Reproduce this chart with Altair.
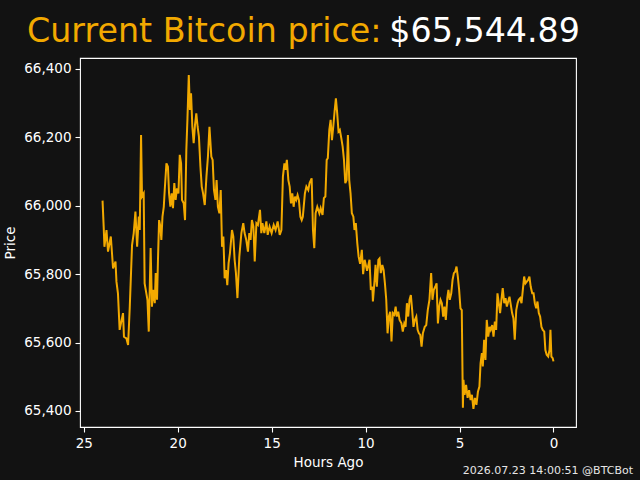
import altair as alt
import pandas as pd

# Price history over the last 24 hours (hours before now, USD)
hours_ago = [
    24.00, 23.94, 23.90, 23.79, 23.71, 23.56, 23.44, 23.31, 23.26, 23.18,
    23.09, 22.91, 22.86, 22.73, 22.64, 22.55, 22.43, 22.34, 22.25, 22.16,
    22.07, 22.02, 21.95, 21.90, 21.81, 21.76, 21.61, 21.54, 21.49, 21.44,
    21.37, 21.31, 21.22, 21.17, 21.10, 21.05, 20.99, 20.92, 20.87, 20.81,
    20.74, 20.69, 20.60, 20.52, 20.46, 20.39, 20.32, 20.25, 20.18, 20.11,
    20.04, 19.96, 19.89, 19.82, 19.77, 19.68, 19.61, 19.54, 19.48, 19.41,
    19.35, 19.29, 19.22, 19.15, 19.08, 19.01, 18.94, 18.87, 18.79, 18.72,
    18.65, 18.56, 18.47, 18.39, 18.31, 18.21, 18.14, 18.07, 17.99, 17.93,
    17.86, 17.78, 17.71, 17.64, 17.57, 17.50, 17.43, 17.36, 17.29, 17.22,
    17.11, 17.04, 16.97, 16.90, 16.82, 16.72, 16.61, 16.51, 16.44, 16.35,
    16.26, 16.19, 16.12, 16.05, 15.97, 15.90, 15.81, 15.73, 15.62, 15.55,
    15.49, 15.39, 15.28, 15.21, 15.11, 15.00, 14.89, 14.79, 14.68, 14.57,
    14.48, 14.40, 14.32, 14.26, 14.19, 14.11, 14.04, 13.97, 13.90, 13.83,
    13.76, 13.69, 13.62, 13.55, 13.47, 13.40, 13.34, 13.23, 13.15, 13.05,
    12.98, 12.87, 12.80, 12.73, 12.66, 12.57, 12.46, 12.39, 12.29, 12.22,
    12.14, 12.07, 12.01, 11.93, 11.86, 11.79, 11.72, 11.65, 11.58, 11.51,
    11.44, 11.37, 11.29, 11.22, 11.15, 11.08, 11.01, 10.94, 10.87, 10.80,
    10.73, 10.65, 10.59, 10.52, 10.44, 10.37, 10.29, 10.20, 10.13, 10.05,
    9.92, 9.79, 9.72, 9.64, 9.61, 9.52, 9.47, 9.40, 9.32, 9.26,
    9.19, 9.11, 9.04, 8.97, 8.90, 8.83, 8.76, 8.69, 8.62, 8.55,
    8.47, 8.40, 8.34, 8.26, 8.19, 8.09, 8.02, 7.94, 7.87, 7.80,
    7.73, 7.66, 7.59, 7.52, 7.45, 7.38, 7.30, 7.23, 7.16, 7.09,
    7.02, 6.95, 6.85, 6.77, 6.69, 6.60, 6.51, 6.44, 6.37, 6.29,
    6.22, 6.15, 6.08, 6.01, 5.94, 5.87, 5.80, 5.73, 5.65, 5.59,
    5.52, 5.44, 5.37, 5.30, 5.23, 5.16, 5.09, 5.02, 4.95, 4.88,
    4.82, 4.79, 4.73, 4.65, 4.57, 4.49, 4.41, 4.34, 4.26, 4.18,
    4.10, 4.02, 3.94, 3.88, 3.81, 3.76, 3.69, 3.62, 3.55, 3.47,
    3.40, 3.34, 3.26, 3.19, 3.12, 3.05, 2.98, 2.91, 2.84, 2.77,
    2.70, 2.62, 2.55, 2.48, 2.41, 2.34, 2.27, 2.20, 2.13, 2.06,
    1.98, 1.91, 1.85, 1.77, 1.70, 1.63, 1.56, 1.49, 1.42, 1.35,
    1.28, 1.21, 1.13, 1.06, 0.99, 0.92, 0.85, 0.78, 0.71, 0.64,
    0.57, 0.49, 0.43, 0.36, 0.28, 0.21, 0.16, 0.11, 0.04, 0.00,
]

price = [
    66015, 65939, 65880, 65929, 65866, 65910, 65817, 65837, 65778, 65744,
    65637, 65686, 65617, 65612, 65593, 65705, 65885, 65920, 65983, 65880,
    65968, 65929, 66207, 66027, 66036, 65773, 65725, 65632, 65754, 65876,
    65705, 65754, 65715, 65803, 65725, 65842, 65958, 65939, 65900, 65968,
    65997, 66046, 66124, 66114, 66036, 65997, 66036, 65993, 66066, 66017,
    66051, 66036, 66149, 66124, 66017, 66007, 65958, 66163, 66256, 66382,
    66280, 66329, 66231, 66183, 66236, 66270, 66231, 66202, 66114, 66056,
    66036, 66002, 66085, 66144, 66231, 66144, 66134, 66046, 66017, 66075,
    65997, 65978, 66046, 65880, 65910, 65788, 65812, 65768, 65832, 65861,
    65929, 65910, 65842, 65803, 65730, 65851, 65920, 65949, 65920, 65900,
    65866, 65920, 65900, 65958, 65939, 65837, 65949, 65944, 65988, 65920,
    65949, 65920, 65954, 65915, 65939, 65920, 65944, 65929, 65954, 65915,
    65929, 66085, 66124, 66105, 66134, 66075, 66056, 66007, 66036, 65997,
    66027, 66017, 66031, 66017, 65968, 65958, 65968, 66036, 66056, 66046,
    66066, 66080, 65929, 65876, 65978, 65997, 65978, 65993, 65973, 66022,
    66027, 66134, 66139, 66222, 66251, 66192, 66231, 66275, 66314, 66270,
    66217, 66222, 66197, 66173, 66134, 66066, 66075, 66207, 66075, 66036,
    65978, 65968, 65929, 65949, 65890, 65851, 65830, 65871, 65800, 65842,
    65810, 65842, 65754, 65763, 65720, 65783, 65827, 65763, 65842, 65846,
    65803, 65827, 65812, 65773, 65725, 65627, 65676, 65690, 65603, 65686,
    65681, 65705, 65676, 65690, 65666, 65656, 65632, 65656, 65646, 65715,
    65676, 65725, 65739, 65695, 65646, 65666, 65676, 65637, 65627, 65622,
    65588, 65627, 65646, 65651, 65695, 65725, 65803, 65725, 65754, 65763,
    65773, 65656, 65705, 65725, 65715, 65676, 65705, 65666, 65730, 65754,
    65725, 65744, 65783, 65803, 65807, 65822, 65793, 65754, 65700, 65695,
    65409, 65491, 65447, 65476, 65438, 65461, 65432, 65447, 65406, 65438,
    65418, 65456, 65471, 65539, 65569, 65530, 65608, 65549, 65666, 65617,
    65646, 65637, 65651, 65617, 65661, 65637, 65744, 65715, 65686, 65725,
    65759, 65715, 65730, 65705, 65720, 65734, 65710, 65686, 65671, 65608,
    65695, 65715, 65725, 65730, 65715, 65754, 65793, 65773, 65778, 65783,
    65793, 65763, 65744, 65744, 65715, 65700, 65720, 65686, 65676, 65646,
    65637, 65632, 65578, 65564, 65559, 65578, 65637, 65559, 65554, 65544.89,
]

x_ticks = [0, 5, 10, 15, 20, 25]
y_ticks = [65400, 65600, 65800, 66000, 66200, 66400]

current_price = 65544.89
title_label = "Current Bitcoin price:"
stamp = "2026.07.23 14:00:51 @BTCBot"

BG = "#121212"
ORANGE = "#F2A900"
FG = "#FFFFFF"
FONT = "DejaVu Sans"

df = pd.DataFrame({"hours_ago": hours_ago, "price": price})

W, H = 496, 369

line = alt.Chart(df).mark_line(color=ORANGE, strokeWidth=2).encode(
    x=alt.X(
        "hours_ago:Q",
        scale=alt.Scale(domain=[-1.2, 25.2], reverse=True, nice=False, zero=False),
        axis=alt.Axis(values=x_ticks, title="Hours Ago", format="d"),
    ),
    y=alt.Y(
        "price:Q",
        scale=alt.Scale(domain=[65353, 66432], nice=False, zero=False),
        axis=alt.Axis(values=y_ticks, title="Price", format=",.0f"),
    ),
)

one = pd.DataFrame({"k": [0]})

head_left = alt.Chart(one).mark_text(
    text=title_label, color=ORANGE, font=FONT, fontSize=33.3,
    align="left", baseline="alphabetic",
).encode(x=alt.value(-53), y=alt.value(-16))

head_right = alt.Chart(one).mark_text(
    text=f"${current_price:,.2f}", color=FG, font=FONT, fontSize=33.3,
    align="right", baseline="alphabetic",
).encode(x=alt.value(500), y=alt.value(-16))

footer = alt.Chart(one).mark_text(
    text=stamp, color="#E6E6E6", font=FONT, fontSize=11,
    align="right", baseline="alphabetic",
).encode(x=alt.value(553), y=alt.value(416))

chart = alt.layer(line, head_left, head_right, footer).properties(
    width=W,
    height=H,
    background=BG,
    autosize=alt.AutoSizeParams(type="none"),
    padding={"left": 80, "top": 58, "right": 64, "bottom": 53},
).configure_view(
    stroke=FG, strokeWidth=1.1, fill=BG,
).configure_axis(
    domain=False,
    grid=False,
    ticks=True,
    tickColor=FG,
    tickSize=5,
    tickWidth=1.1,
    labelColor=FG,
    labelFont=FONT,
    labelFontSize=13.5,
    labelPadding=4,
    titleColor=FG,
    titleFont=FONT,
    titleFontSize=13.5,
    titleFontWeight="normal",
).configure_axisX(
    titlePadding=6,
).configure_axisY(
    titlePadding=6,
)

chart.save("out.html", embed_options={"renderer": "svg", "actions": False})
